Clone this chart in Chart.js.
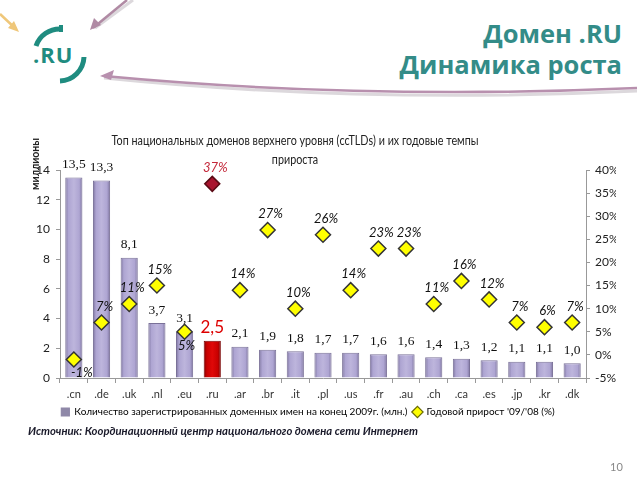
<!DOCTYPE html>
<html><head><meta charset="utf-8">
<script src="https://cdn.jsdelivr.net/npm/chart.js@4/dist/chart.umd.min.js"></script>
<style>
html,body{margin:0;padding:0;background:#fff;width:640px;height:480px;overflow:hidden;}
#wrap{position:relative;width:640px;height:480px;}
#c{position:absolute;left:0;top:0;}
.hdr{position:absolute;right:18px;color:#338c88;font-family:"Open Sans",sans-serif;font-weight:bold;font-size:25.5px;line-height:30px;white-space:nowrap;}
#ctitle{position:absolute;left:0;width:590px;top:131px;text-align:center;font-family:Lato,sans-serif;font-size:12.5px;line-height:19px;color:#222;transform:scaleX(0.86);transform-origin:295px 0;}
#ytitle{position:absolute;left:29px;top:190px;transform-origin:0 0;transform:rotate(-90deg);font-family:Lato,sans-serif;font-weight:bold;font-size:10.5px;color:#222;white-space:nowrap;}
#src{position:absolute;left:28px;top:424px;font-family:Lato,sans-serif;font-weight:bold;font-style:italic;font-size:11.5px;color:#1a1a2a;white-space:nowrap;transform:scaleX(0.98);transform-origin:0 0;}
#pg{position:absolute;left:610px;top:460px;font-family:Lato,sans-serif;font-size:11px;color:#888;}
svg{position:absolute;left:0;top:0;}
</style></head>
<body><div id="wrap">
<svg width="640" height="120">
  <path d="M637 91 Q 360 104 104 78" stroke="#dcd8dc" stroke-width="3" fill="none"/>
  <path d="M637 88 Q 360 100 104 76" stroke="#b890ae" stroke-width="2.5" fill="none"/>
  <path d="M100 76 L114 70 L111 80 Z" fill="#b890ae"/>
  <path d="M133 0 L95 28" stroke="#dcd8dc" stroke-width="3" fill="none"/>
  <path d="M127 0 L93 28" stroke="#b08aa4" stroke-width="2.5" fill="none"/>
  <path d="M90 30 L94 18 L101 25 Z" fill="#b08aa4"/>
  <path d="M0 14 L16 29" stroke="#efc77a" stroke-width="2.5" fill="none"/>
  <path d="M19 32 L8 28 L14 21 Z" fill="#efc77a"/>
  <path d="M36 46 A 25 25 0 0 1 61 29" stroke="#1f8c80" stroke-width="5" fill="none"/>
  <path d="M61 25 L61 32" stroke="#1f8c80" stroke-width="4"/>
  <path d="M84 57 A 25 25 0 0 1 60 81" stroke="#1f8c80" stroke-width="5" fill="none"/>
  <text x="33" y="63" font-family="Open Sans, sans-serif" font-weight="bold" font-size="22" letter-spacing="1" fill="#1f8c80">.RU</text>
</svg>
<div class="hdr" style="top:18px">Домен .RU</div>
<div class="hdr" style="top:49px">Динамика роста</div>
<canvas id="c" width="640" height="480"></canvas>
<div id="ctitle">Топ национальных доменов верхнего уровня (ccTLDs) и их годовые темпы<br>прироста</div>
<div id="ytitle">миллионы</div>
<div id="src">Источник: Координационный центр национального домена сети Интернет</div>
<div id="pg">10</div>
</div>
<script>
const categories = ['.cn','.de','.uk','.nl','.eu','.ru','.ar','.br','.it','.pl','.us','.fr','.au','.ch','.ca','.es','.jp','.kr','.dk'];
const domains = [13.5,13.3,8.1,3.7,3.1,2.5,2.1,1.9,1.8,1.7,1.7,1.6,1.6,1.4,1.3,1.2,1.1,1.1,1.0];
const growth = [-1,7,11,15,5,37,14,27,10,26,14,23,23,11,16,12,7,6,7];
const leftTicks = [0,2,4,6,8,10,12,14];
const rightTicks = [-5,0,5,10,15,20,25,30,35,40];
const highlight = '.ru';
const seriesNames = ['Количество зарегистрированных доменных имен на конец 2009г. (млн.)', "Годовой прирост '09/'08 (%)"];

const hiIdx = categories.indexOf(highlight);
const labelShift = {0:[8,13], 4:[2,14]};
const target = {left:60, right:586, top:170, bottom:378};

function barFill(ctx){
  const chart = ctx.chart, i = ctx.dataIndex;
  const red = i === hiIdx;
  const xs = chart.scales.x;
  if (!xs || xs.width === undefined || ctx.type !== 'data') return red ? '#cc0000' : '#aaa1cf';
  const cx = xs.getPixelForValue(i);
  const w = 17;
  const g = chart.ctx.createLinearGradient(cx - w/2, 0, cx + w/2, 0);
  if (red){
    g.addColorStop(0,'#7a0000'); g.addColorStop(0.18,'#c80000'); g.addColorStop(0.5,'#e00808'); g.addColorStop(0.82,'#c80000'); g.addColorStop(1,'#7a0000');
  } else {
    g.addColorStop(0,'#7d749f'); g.addColorStop(0.18,'#aea5d2'); g.addColorStop(0.5,'#bdb5dc'); g.addColorStop(0.82,'#aea5d2'); g.addColorStop(1,'#7d749f');
  }
  return g;
}

const valueLabels = {
  id:'valueLabels',
  afterDatasetsDraw(chart){
    const c = chart.ctx;
    const bars = chart.getDatasetMeta(0).data;
    const pts = chart.getDatasetMeta(1).data;
    c.save();
    c.textAlign = 'center'; c.textBaseline = 'middle';
    bars.forEach((b,i)=>{
      const txt = domains[i].toFixed(1).replace('.',',');
      if (i === hiIdx){ c.font = '17px Lato, sans-serif'; c.fillStyle = '#dd0000'; }
      else { c.font = '13.5px "Liberation Serif", serif'; c.fillStyle = '#111'; }
      c.fillText(txt, b.x, b.y - 13);
    });
    pts.forEach((p,i)=>{
      const s = labelShift[i] || [3,-16];
      const txt = growth[i] + '%';
      c.font = 'italic 13px Lato, sans-serif';
      c.fillStyle = i === hiIdx ? '#c4283a' : '#111';
      c.fillText(txt, p.x + s[0], p.y + s[1]);
    });
    c.restore();
  }
};

const chart = new Chart(document.getElementById('c'), {
  data: {
    labels: categories,
    datasets: [
      { type:'bar', label: seriesNames[0], data: domains, yAxisID:'y', order:2,
        backgroundColor: barFill, borderColor: (ctx)=> ctx.dataIndex===hiIdx ? '#7a0000' : '#7a7198', borderWidth: 1,
        barPercentage: 0.62, categoryPercentage: 1.0 },
      { type:'line', label: seriesNames[1], data: growth, yAxisID:'y1', order:1, showLine:false,
        pointStyle:'rectRot', pointRadius:7.5, pointHoverRadius:7.5,
        pointBackgroundColor: (ctx)=> ctx.dataIndex===hiIdx ? '#a8142e' : '#ffff00',
        pointBorderColor: (ctx)=> ctx.dataIndex===hiIdx ? '#5a0a14' : '#333',
        pointBorderWidth: 1.5, backgroundColor:'#ffff00', borderColor:'#6b6b00' }
    ]
  },
  options: {
    responsive:false, animation:false,
    layout:{ padding:{ top:170, left:0, right:24, bottom:42 } },
    plugins:{
      tooltip:{enabled:false},
      title:{display:false},
      legend:{ position:'bottom',
        labels:{ usePointStyle:true, boxWidth:8, boxHeight:8, padding:6, color:'#222',
          font:{ family:'Lato, sans-serif', size:10 },
          generateLabels(chart){
            return chart.data.datasets.map((d,i)=>({
              text:d.label, datasetIndex:i,
              pointStyle: i===0 ? 'rect' : 'rectRot',
              fillStyle: i===0 ? '#8f88a8' : '#ffff00',
              strokeStyle: i===0 ? '#8f88a8' : '#6b6b00',
              lineWidth: 1.2, hidden:false
            }));
          } } }
    },
    scales:{
      x:{ grid:{ display:true, drawOnChartArea:false, drawTicks:true, tickLength:5, color:'#999', offset:true },
          border:{ color:'#999' },
          ticks:{ color:'#333', font:{ family:'Lato, sans-serif', size:11 }, padding:5 },
          afterFit(s){ s.height = 23; } },
      y:{ position:'left', min:0, max:14,
          afterBuildTicks(s){ s.ticks = leftTicks.map(v=>({value:v})); },
          grid:{ display:true, drawOnChartArea:false, tickLength:4, color:'#999' },
          border:{ color:'#999' },
          ticks:{ color:'#222', font:{ family:'Lato, sans-serif', size:12 }, padding:6 },
          afterFit(s){ s.width = 60; } },
      y1:{ position:'right', min:-5, max:40,
          afterBuildTicks(s){ s.ticks = rightTicks.map(v=>({value:v})); },
          grid:{ display:true, drawOnChartArea:false, tickLength:4, color:'#999' },
          border:{ color:'#999' },
          ticks:{ color:'#222', font:{ family:'Lato, sans-serif', size:12 }, padding:5, callback:(v)=> v + '%' },
          afterFit(s){ s.width = 30; } }
    }
  },
  plugins:[valueLabels]
});
for (let k = 0; k < 3; k++){
  const ca = chart.chartArea, p = chart.options.layout.padding;
  p.left += target.left - ca.left;
  p.right += ca.right - target.right;
  p.top += target.top - ca.top;
  p.bottom += ca.bottom - target.bottom;
  chart.update();
}
</script>
</body></html>
